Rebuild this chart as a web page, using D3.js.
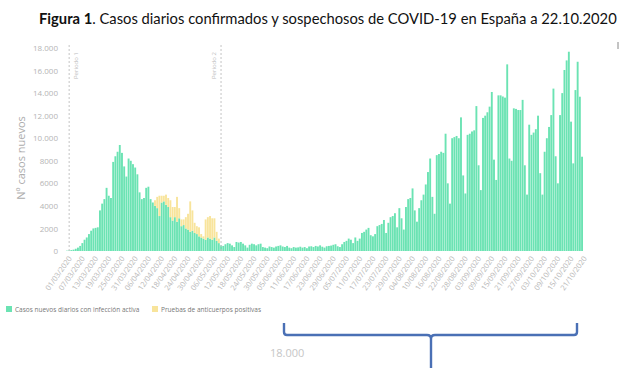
<!DOCTYPE html>
<html>
<head>
<meta charset="utf-8">
<script src="https://cdn.jsdelivr.net/npm/d3@7"></script>
<style>
  body { margin: 0; background: #fff; }
  svg { display: block; font-family: "Open Sans", sans-serif; }
</style>
</head>
<body>
<div id="chart"></div>
<script>
// Daily confirmed cases (green), one value per day from 01/03/2020 to 21/10/2020
const activeMarch = [30, 50, 80, 120, 200, 300, 450, 700, 1000, 1200, 1500, 1800, 2000, 2050, 2100, 3600,
  4200, 4600, 5600, 4900, 4700, 7900, 8400, 8800, 9400, 8700, 7500, 6600, 8200, 8000, 7700];
const activeApril = [7400, 6800, 5200, 4600, 4700, 5600, 5700, 4600, 4300, 4000, 3800, 3100, 4300, 4400, 4100,
  3900, 3000, 2700, 3000, 2600, 2900, 2200, 2300, 2000, 1900, 1700, 1800, 1600, 1500, 1300];
const activeMay = [1200, 1100, 1000, 1200, 1100, 1000, 1200, 900, 700, 500, 450, 600, 700, 650, 500, 350, 800,
  750, 800, 650, 500, 300, 550, 650, 600, 500, 600, 650, 350, 300, 250];
const activeJune = [400, 350, 300, 400, 450, 500, 400, 350, 450, 300, 250, 350, 300, 320, 380, 300, 350, 250,
  400, 420, 350, 450, 400, 500, 380, 300, 420, 450, 480, 550];
const activeJuly = [600, 420, 350, 600, 800, 900, 1100, 1000, 700, 1200, 900, 1100, 1600, 1700, 1900, 2050,
  1400, 1300, 1500, 2200, 2300, 2400, 2750, 1600, 2500, 3000, 3100, 3350, 2100, 3800, 2900];
const activeAugust = [1900, 3900, 4600, 4700, 5550, 3600, 2600, 3800, 4500, 5000, 5900, 7000, 8200, 4800, 3300,
  8500, 8600, 8800, 8700, 10400, 6000, 4200, 10000, 10100, 10200, 10000, 11850, 6700, 5100, 10300, 10400];
const activeSeptember = [10600, 10700, 12850, 7600, 5400, 11800, 12000, 12300, 12800, 14100, 8100, 6300, 13800,
  13800, 13700, 13600, 16550, 8200, 8000, 12650, 12600, 12500, 12500, 13400, 7600, 5000, 11200, 10300, 10500, 10800];
const activeOctober = [12000, 6900, 5000, 8800, 10000, 11000, 12050, 14400, 8400, 6000, 12050, 14000, 16050,
  16900, 17670, 11470, 7770, 14270, 16780, 13680, 8360];

// Positive antibody tests (yellow), stacked on top, from 10/04/2020 onwards
const antibodyStart = "10/04/2020";
const antibodyValues = [500, 1000, 1800, 600, 500, 900, 800, 1500, 1200, 900, 2200, 900, 600, 500, 1000, 1400,
  2700, 1800, 900, 700, 800, 300, 200, 1800, 1800, 2000, 1900, 1700, 800, 400];

const xTickLabels = ["01/03/2020", "07/03/2020", "13/03/2020", "19/03/2020", "25/03/2020", "31/03/2020",
  "06/04/2020", "12/04/2020", "18/04/2020", "24/04/2020", "30/04/2020", "06/05/2020", "12/05/2020",
  "18/05/2020", "24/05/2020", "30/05/2020", "05/06/2020", "11/06/2020", "17/06/2020", "23/06/2020",
  "29/06/2020", "05/07/2020", "11/07/2020", "17/07/2020", "23/07/2020", "29/07/2020", "04/08/2020",
  "10/08/2020", "16/08/2020", "22/08/2020", "28/08/2020", "03/09/2020", "09/09/2020", "15/09/2020",
  "21/09/2020", "27/09/2020", "03/10/2020", "09/10/2020", "15/10/2020", "21/10/2020"];
const yTicks = [0, 2000, 4000, 6000, 8000, 10000, 12000, 14000, 16000, 18000];
const yTickLabels = ["0", "2000", "4000", "6000", "8000", "10.000", "12.000", "14.000", "16.000", "18.000"];

const periodStarts = ["02/03/2020", "10/05/2020"];
const periodLabels = ["Periodo 1", "Periodo 2"];

const legendItems = [
  { label: "Casos nuevos diarios con infección activa", color: "#6be3b3" },
  { label: "Pruebas de anticuerpos positivas", color: "#f8e49b" }
];

const WIDTH = 620;
const HEIGHT = 368;
const BASE_Y = 251;

const parse = d3.timeParse("%d/%m/%Y");
const fmt = d3.timeFormat("%d/%m/%Y");

const dayKeys = d3.timeDay
  .range(parse("01/03/2020"), d3.timeDay.offset(parse("21/10/2020"), 1))
  .map(fmt);

const activeCases = [].concat(activeMarch, activeApril, activeMay, activeJune,
  activeJuly, activeAugust, activeSeptember, activeOctober);

const abOffset = dayKeys.indexOf(antibodyStart);

const data = dayKeys.map((key, i) => {
  const ab = i >= abOffset && i < abOffset + antibodyValues.length ? antibodyValues[i - abOffset] : 0;
  return { key, active: activeCases[i] || 0, antibody: ab };
});

const svg = d3.select("#chart")
  .append("svg")
  .attr("width", WIDTH)
  .attr("height", HEIGHT);

const x = d3.scaleBand().domain(dayKeys).range([66, 583]).paddingInner(0.14);
const y = d3.scaleLinear().domain([0, 18000]).range([BASE_Y, 48]);

// Title, squeezed to the width of the original
const title = svg.append("text")
  .attr("x", 39)
  .attr("y", 24)
  .style("font-family", "Lato, 'Open Sans', sans-serif")
  .style("font-size", "14px")
  .style("fill", "#111");
title.append("tspan").style("font-weight", "bold").text("Figura 1");
title.append("tspan").text(". Casos diarios confirmados y sospechosos de COVID-19 en España a 22.10.2020");
const titleWidth = title.node().getComputedTextLength();
title.style("font-size", (14 * 578 / titleWidth) + "px");

// Bars
const bars = svg.append("g");
bars.selectAll(".active")
  .data(data)
  .join("rect")
  .attr("class", "active")
  .attr("x", (d) => x(d.key))
  .attr("width", x.bandwidth())
  .attr("y", (d) => y(d.active))
  .attr("height", (d) => BASE_Y - y(d.active))
  .style("fill", legendItems[0].color);

bars.selectAll(".antibody")
  .data(data.filter((d) => d.antibody > 0))
  .join("rect")
  .attr("class", "antibody")
  .attr("x", (d) => x(d.key))
  .attr("width", x.bandwidth())
  .attr("y", (d) => y(d.active + d.antibody))
  .attr("height", (d) => y(d.active) - y(d.active + d.antibody))
  .style("fill", legendItems[1].color);

// Period markers
periodStarts.forEach((key, i) => {
  const px = x(key) + x.bandwidth() / 2;
  svg.append("line")
    .attr("x1", px).attr("x2", px)
    .attr("y1", 45).attr("y2", BASE_Y)
    .style("stroke", "#c4c4c4")
    .style("stroke-width", 1)
    .style("stroke-dasharray", "2,2");
  const lx = i === 0 ? px + 9 : px - 5;
  svg.append("text")
    .attr("transform", `translate(${lx},79) rotate(-90)`)
    .style("font-size", "6px")
    .style("fill", "#bdbdbd")
    .text(periodLabels[i]);
});

// Y axis
const yAxis = svg.append("g")
  .attr("transform", "translate(58,0)")
  .call(d3.axisLeft(y).tickValues(yTicks).tickSize(0).tickPadding(0)
    .tickFormat((d, i) => yTickLabels[i]));
yAxis.select(".domain").remove();
yAxis.selectAll("text")
  .style("font-family", "'Open Sans', sans-serif")
  .style("font-size", "8px")
  .style("fill", "#b5b5b5");

svg.append("text")
  .attr("transform", "translate(25,158) rotate(-90)")
  .attr("text-anchor", "middle")
  .style("font-size", "11px")
  .style("fill", "#adadad")
  .text("Nº casos nuevos");

// X axis
const xAxis = svg.append("g")
  .attr("transform", `translate(0,${BASE_Y})`)
  .call(d3.axisBottom(x).tickValues(xTickLabels).tickSize(0));
xAxis.select(".domain").remove();
xAxis.selectAll("text")
  .attr("x", 0)
  .attr("y", 0)
  .attr("dy", "0.35em")
  .attr("text-anchor", "end")
  .attr("transform", "translate(3,6) rotate(-55)")
  .style("font-family", "'Open Sans', sans-serif")
  .style("font-size", "7.5px")
  .style("fill", "#b8b8b8");

// Legend
const legend = svg.append("g").attr("transform", "translate(6,306)");
const legendX = [0, 146];
legendItems.forEach((item, i) => {
  legend.append("rect")
    .attr("x", legendX[i]).attr("y", 0)
    .attr("width", 6).attr("height", 6)
    .style("fill", item.color);
  legend.append("text")
    .attr("x", legendX[i] + 9)
    .attr("y", 5.5)
    .style("font-size", "6.5px")
    .style("fill", "#777")
    .text(item.label);
});

// Brace below the chart
svg.append("path")
  .attr("d", "M284,323 L284,332 Q284,335 287,335 L427,335 Q431,335 431,339 L431,368 " +
    "M431,339 Q431,335 435,335 L574,335 Q577,335 577,332 L577,323")
  .style("fill", "none")
  .style("stroke", "#4a70b5")
  .style("stroke-width", 2.4);

svg.append("text")
  .attr("x", 270)
  .attr("y", 357)
  .style("font-size", "11px")
  .style("fill", "#c6c6c6")
  .text("18.000");

svg.append("line")
  .attr("x1", 618).attr("x2", 618)
  .attr("y1", 42).attr("y2", 49)
  .style("stroke", "#888")
  .style("stroke-width", 1);
</script>
</body>
</html>
